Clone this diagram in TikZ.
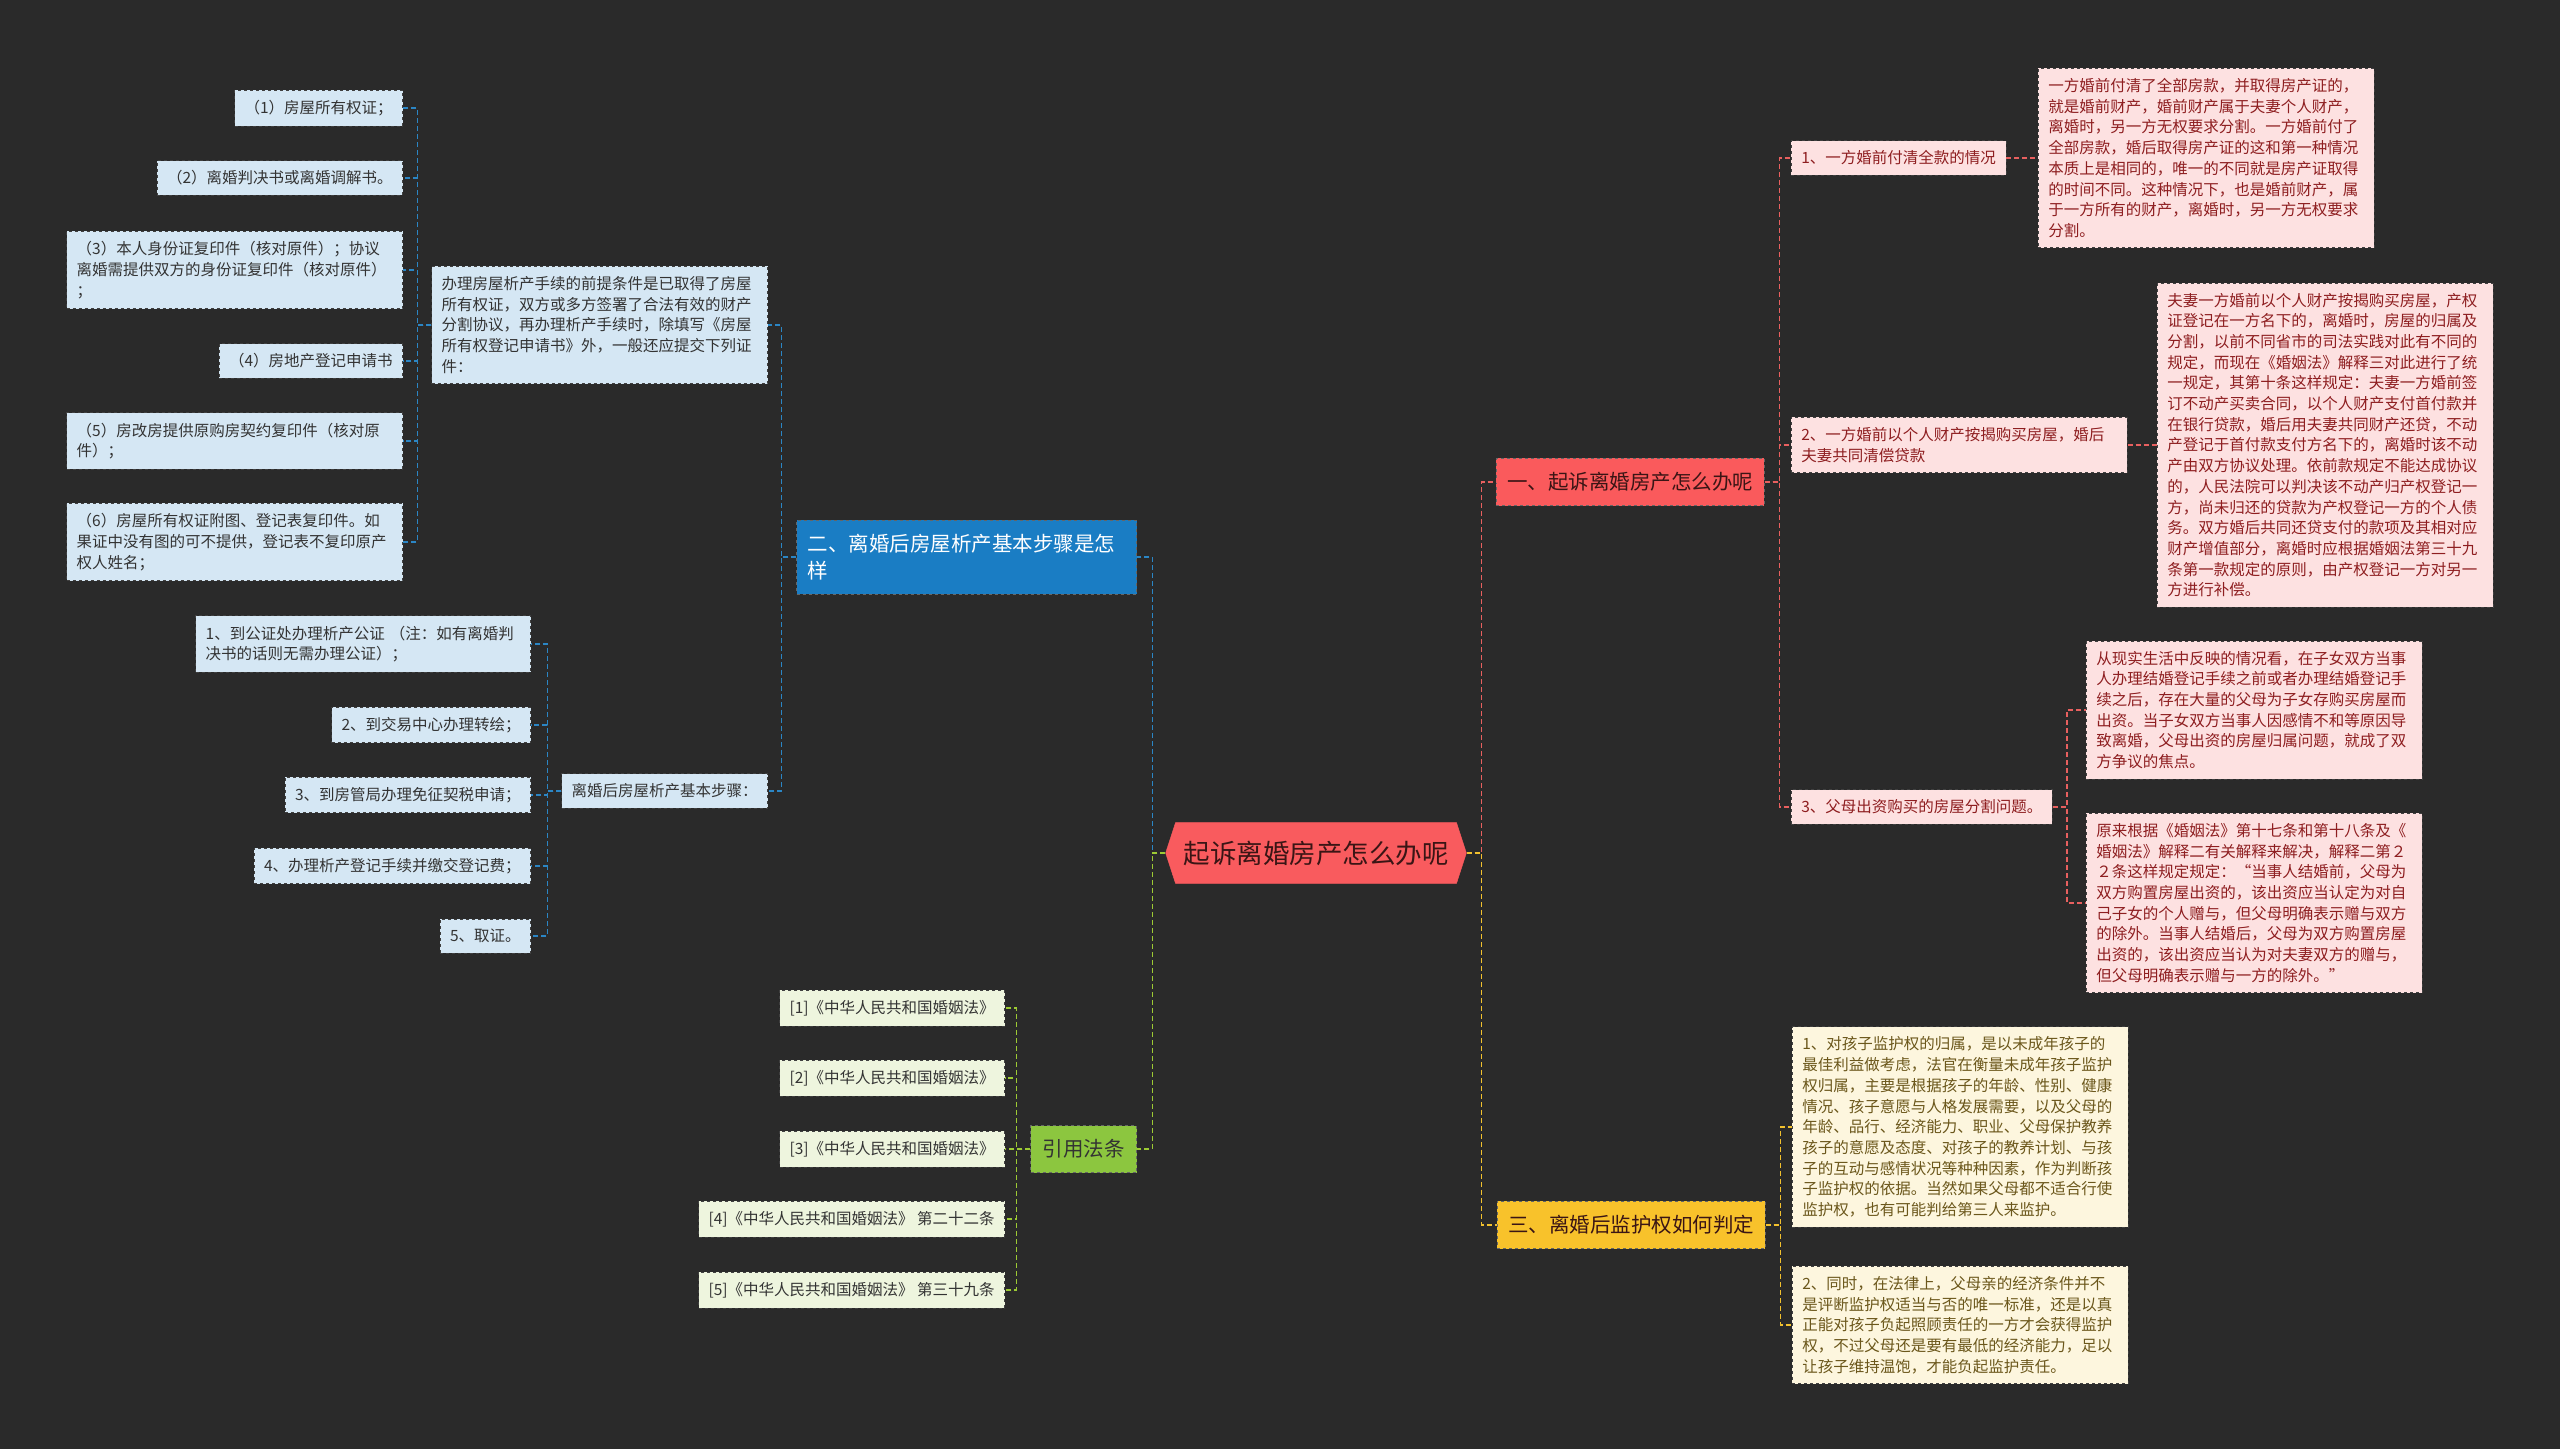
\documentclass[tikz,border=0pt]{standalone}
\usepackage{fontspec}
\setmainfont{Noto Sans CJK SC}
\usetikzlibrary{shapes.symbols}
\definecolor{bgc}{HTML}{2A2A2A}
\definecolor{rootc}{HTML}{F95B5E}
\definecolor{redc}{HTML}{FA5A5C}
\definecolor{bluec}{HTML}{1A7DC4}
\definecolor{greenc}{HTML}{8CC63F}
\definecolor{yelc}{HTML}{F8C22B}
\definecolor{bleafc}{HTML}{D5E7F4}
\definecolor{rleafc}{HTML}{FDE1E1}
\definecolor{yleafc}{HTML}{FDF6DE}
\definecolor{gleafc}{HTML}{EEF5DE}
\definecolor{darktxt}{HTML}{333333}
\definecolor{rtxt}{HTML}{8E1E20}
\definecolor{ytxt}{HTML}{6B571B}
\definecolor{topictxt}{HTML}{3A1515}
\definecolor{blinec}{HTML}{2B86C5}
\definecolor{rlinec}{HTML}{E8605F}
\definecolor{ylinec}{HTML}{F2C12E}
\definecolor{glinec}{HTML}{9DCB34}
\begin{document}
\begin{tikzpicture}[x=1pt,y=-1pt,
    box/.style={draw=black!75, dashed, line width=0.7pt, inner xsep=10pt, inner ysep=10pt, font=\fontsize{15.5}{20.7}\selectfont, align=left},
    bleaf/.style={box, fill=bleafc, text=darktxt},
    rleaf/.style={box, fill=rleafc, text=rtxt},
    yleaf/.style={box, fill=yleafc, text=ytxt},
    gleaf/.style={box, fill=gleafc, text=darktxt},
    wide/.style={text width=316pt},
    topic/.style={draw=black!60, dashed, line width=0.7pt, inner xsep=11pt, inner ysep=14pt, font=\fontsize{20.5}{27}\selectfont, align=left},
    root/.style={signal, signal to=east and west, signal pointer angle=144, fill=rootc, text=topictxt, draw=rootc, inner xsep=8pt, inner ysep=18pt, font=\fontsize{26.5}{30}\selectfont},
    link/.style={dash pattern=on 5pt off 3pt, line width=1.4pt},
    bline/.style={link, blinec},
    rline/.style={link, rlinec},
    yline/.style={link, ylinec},
    gline/.style={link, glinec}]
\fill[bgc] (0,0) rectangle (2560,1449);
\useasboundingbox (0,0) rectangle (2560,1449);

\node(root)[root] at (1316,853){起诉离婚房产怎么办呢};

\node(b0)[topic, fill=bluec, text=white, text width=318pt, anchor=east] at (1137,557){二、离婚后房屋析产基本步骤是怎\\样};
\node(bp1)[bleaf, wide, anchor=east] at (768,325){办理房屋析产手续的前提条件是已取得了房屋\\所有权证，双方或多方签署了合法有效的财产\\分割协议，再办理析产手续时，除填写《房屋\\所有权登记申请书》外，一般还应提交下列证\\件：};
\node(bp2)[bleaf, anchor=east] at (768,791){离婚后房屋析产基本步骤：};
\node(bl1)[bleaf, anchor=east] at (403,108){（1）房屋所有权证；};
\node(bl2)[bleaf, anchor=east] at (403,178){（2）离婚判决书或离婚调解书。};
\node(bl3)[bleaf, wide, anchor=east] at (403,270){（3）本人身份证复印件（核对原件）；协议\\离婚需提供双方的身份证复印件（核对原件）\\；};
\node(bl4)[bleaf, anchor=east] at (403,361){（4）房地产登记申请书};
\node(bl5)[bleaf, wide, anchor=east] at (403,441){（5）房改房提供原购房契约复印件（核对原\\件）；};
\node(bl6)[bleaf, wide, anchor=east] at (403,542){（6）房屋所有权证附图、登记表复印件。如\\果证中没有图的可不提供，登记表不复印原产\\权人姓名；};
\node(bs1)[bleaf, text width=315pt, anchor=east] at (531,644){1、到公证处办理析产公证 （注：如有离婚判\\决书的话则无需办理公证）；};
\node(bs2)[bleaf, anchor=east] at (531,725){2、到交易中心办理转绘；};
\node(bs3)[bleaf, anchor=east] at (531,795){3、到房管局办理免征契税申请；};
\node(bs4)[bleaf, anchor=east] at (531,866){4、办理析产登记手续并缴交登记费；};
\node(bs5)[bleaf, anchor=east] at (531,936){5、取证。};

\node(g0)[topic, fill=greenc, text=darktxt, inner xsep=12pt, anchor=east] at (1137,1149){引用法条};
\node(gl1)[gleaf, anchor=east] at (1005,1008){[1]《中华人民共和国婚姻法》};
\node(gl2)[gleaf, anchor=east] at (1005,1078){[2]《中华人民共和国婚姻法》};
\node(gl3)[gleaf, anchor=east] at (1005,1149){[3]《中华人民共和国婚姻法》};
\node(gl4)[gleaf, anchor=east] at (1005,1219){[4]《中华人民共和国婚姻法》 第二十二条};
\node(gl5)[gleaf, anchor=east] at (1005,1290){[5]《中华人民共和国婚姻法》 第三十九条};

\node(r0)[topic, fill=redc, text=topictxt, anchor=west] at (1496,482){一、起诉离婚房产怎么办呢};
\node(r1)[rleaf, anchor=west] at (1791,158){1、一方婚前付清全款的情况};
\node(r2)[rleaf, wide, anchor=west] at (1791,445){2、一方婚前以个人财产按揭购买房屋，婚后\\夫妻共同清偿贷款};
\node(r3)[rleaf, anchor=west] at (1791,807){3、父母出资购买的房屋分割问题。};
\node(rl1)[rleaf, wide, anchor=west] at (2038,158){一方婚前付清了全部房款，并取得房产证的，\\就是婚前财产，婚前财产属于夫妻个人财产，\\离婚时，另一方无权要求分割。一方婚前付了\\全部房款，婚后取得房产证的这和第一种情况\\本质上是相同的，唯一的不同就是房产证取得\\的时间不同。这种情况下，也是婚前财产，属\\于一方所有的财产，离婚时，另一方无权要求\\分割。};
\node(rl2)[rleaf, wide, anchor=west] at (2157,445){夫妻一方婚前以个人财产按揭购买房屋，产权\\证登记在一方名下的，离婚时，房屋的归属及\\分割，以前不同省市的司法实践对此有不同的\\规定，而现在《婚姻法》解释三对此进行了统\\一规定，其第十条这样规定：夫妻一方婚前签\\订不动产买卖合同，以个人财产支付首付款并\\在银行贷款，婚后用夫妻共同财产还贷，不动\\产登记于首付款支付方名下的，离婚时该不动\\产由双方协议处理。依前款规定不能达成协议\\的，人民法院可以判决该不动产归产权登记一\\方，尚未归还的贷款为产权登记一方的个人债\\务。双方婚后共同还贷支付的款项及其相对应\\财产增值部分，离婚时应根据婚姻法第三十九\\条第一款规定的原则，由产权登记一方对另一\\方进行补偿。};
\node(rl3)[rleaf, wide, anchor=west] at (2086,710){从现实生活中反映的情况看，在子女双方当事\\人办理结婚登记手续之前或者办理结婚登记手\\续之后，存在大量的父母为子女存购买房屋而\\出资。当子女双方当事人因感情不和等原因导\\致离婚，父母出资的房屋归属问题，就成了双\\方争议的焦点。};
\node(rl4)[rleaf, wide, anchor=west] at (2086,903){原来根据《婚姻法》第十七条和第十八条及《\\婚姻法》解释二有关解释来解决，解释二第２\\２条这样规定规定：“当事人结婚前，父母为\\双方购置房屋出资的，该出资应当认定为对自\\己子女的个人赠与，但父母明确表示赠与双方\\的除外。当事人结婚后，父母为双方购置房屋\\出资的，该出资应当认为对夫妻双方的赠与，\\但父母明确表示赠与一方的除外。”};

\node(y0)[topic, fill=yelc, text=topictxt, anchor=west] at (1497,1225){三、离婚后监护权如何判定};
\node(yl1)[yleaf, wide, anchor=west] at (1792,1127){1、对孩子监护权的归属，是以未成年孩子的\\最佳利益做考虑，法官在衡量未成年孩子监护\\权归属，主要是根据孩子的年龄、性别、健康\\情况、孩子意愿与人格发展需要，以及父母的\\年龄、品行、经济能力、职业、父母保护教养\\孩子的意愿及态度、对孩子的教养计划、与孩\\子的互动与感情状况等种种因素，作为判断孩\\子监护权的依据。当然如果父母都不适合行使\\监护权，也有可能判给第三人来监护。};
\node(yl2)[yleaf, wide, anchor=west] at (1792,1325){2、同时，在法律上，父母亲的经济条件并不\\是评断监护权适当与否的唯一标准，还是以真\\正能对孩子负起照顾责任的一方才会获得监护\\权，不过父母还是要有最低的经济能力，足以\\让孩子维持温饱，才能负起监护责任。};

\draw[bline](root.west)--++(-13,0)|-(b0.east);
\draw[gline](root.west)--++(-13,0)|-(g0.east);
\draw[rline](root.east)--++(15,0)|-(r0.west);
\draw[yline](root.east)--++(15,0)|-(y0.west);
\draw[bline](b0.west)--++(-15,0)|-(bp1.east);
\draw[bline](b0.west)--++(-15,0)|-(bp2.east);
\draw[bline](bp1.west)--++(-14,0)|-(bl1.east);
\draw[bline](bp1.west)--++(-14,0)|-(bl2.east);
\draw[bline](bp1.west)--++(-14,0)|-(bl3.east);
\draw[bline](bp1.west)--++(-14,0)|-(bl4.east);
\draw[bline](bp1.west)--++(-14,0)|-(bl5.east);
\draw[bline](bp1.west)--++(-14,0)|-(bl6.east);
\draw[bline](bp2.west)--++(-14,0)|-(bs1.east);
\draw[bline](bp2.west)--++(-14,0)|-(bs2.east);
\draw[bline](bp2.west)--++(-14,0)|-(bs3.east);
\draw[bline](bp2.west)--++(-14,0)|-(bs4.east);
\draw[bline](bp2.west)--++(-14,0)|-(bs5.east);
\draw[gline](g0.west)--++(-14,0)|-(gl1.east);
\draw[gline](g0.west)--++(-14,0)|-(gl2.east);
\draw[gline](g0.west)--++(-14,0)|-(gl3.east);
\draw[gline](g0.west)--++(-14,0)|-(gl4.east);
\draw[gline](g0.west)--++(-14,0)|-(gl5.east);
\draw[rline](r0.east)--++(15,0)|-(r1.west);
\draw[rline](r0.east)--++(15,0)|-(r2.west);
\draw[rline](r0.east)--++(15,0)|-(r3.west);
\draw[rline](r1.east)--(rl1.west);
\draw[rline](r2.east)--(rl2.west);
\draw[rline](r3.east)--++(14,0)|-(rl3.west);
\draw[rline](r3.east)--++(14,0)|-(rl4.west);
\draw[yline](y0.east)--++(15,0)|-(yl1.west);
\draw[yline](y0.east)--++(15,0)|-(yl2.west);
\end{tikzpicture}
\end{document}
